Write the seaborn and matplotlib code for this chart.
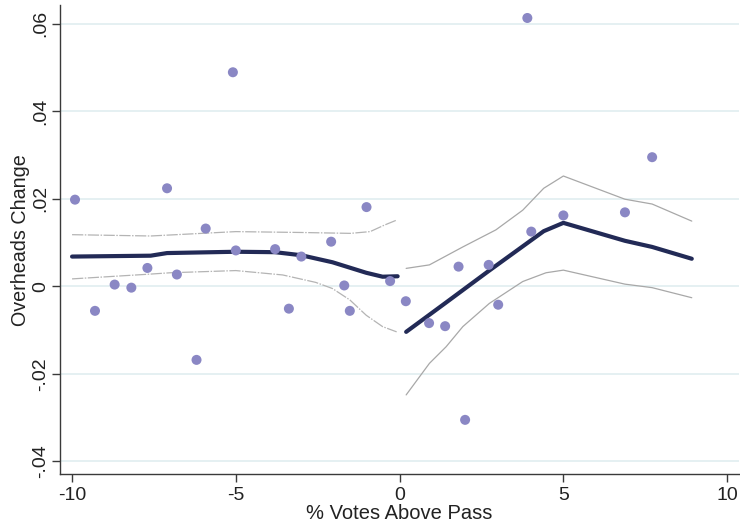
import matplotlib
matplotlib.use("Agg")
import matplotlib.pyplot as plt
import seaborn as sns

# scatter of bin means
bin_x = [-9.91, -9.3, -8.7, -8.19, -7.7, -7.1, -6.8, -6.2, -5.92, -5.09, -5.0,
         -3.8, -3.38, -3.0, -2.09, -1.69, -1.52, -1.01, -0.29, 0.19, 0.9, 1.39,
         1.8, 2.0, 2.72, 3.01, 3.9, 4.02, 5.0, 6.88, 7.71]
bin_y = [0.0198, -0.0056, 0.0004, -0.0003, 0.0042, 0.0224, 0.0027, -0.0168, 0.0132, 0.0489, 0.0082,
         0.0085, -0.0051, 0.0068, 0.0102, 0.0002, -0.0056, 0.0181, 0.0012, -0.0034, -0.0084, -0.0091,
         0.0045, -0.0305, 0.0049, -0.0042, 0.0613, 0.0125, 0.0162, 0.0169, 0.0295]

# fitted line, left of cutoff
left_x = [-10.0, -7.6, -7.1, -5.0, -3.8, -3.0, -2.05, -1.02, -0.52, -0.06]
left_fit = [0.0068, 0.0070, 0.0076, 0.0079, 0.0078, 0.0071, 0.0055, 0.0031, 0.0022, 0.0023]
left_hi_x = [-10.0, -7.6, -5.0, -3.0, -1.5, -0.9, -0.46, -0.1]
left_hi = [0.0118, 0.0115, 0.0125, 0.0123, 0.0121, 0.0125, 0.0140, 0.0151]
left_lo_x = [-10.0, -7.6, -7.0, -5.0, -3.57, -2.56, -2.05, -1.52, -1.02, -0.52, -0.09]
left_lo = [0.0017, 0.0028, 0.0031, 0.0036, 0.0026, 0.0009, -0.0005, -0.0031, -0.0066, -0.0092, -0.0104]

# fitted line, right of cutoff
right_x = [0.2, 1.4, 2.7, 4.4, 5.0, 6.88, 7.71, 8.92]
right_fit = [-0.0104, -0.0038, 0.0034, 0.0126, 0.0145, 0.0104, 0.0090, 0.0063]
right_hi_x = [0.2, 0.91, 1.93, 2.94, 3.76, 4.4, 5.0, 6.88, 7.71, 8.92]
right_hi = [0.0041, 0.0049, 0.0090, 0.0129, 0.0174, 0.0224, 0.0252, 0.0199, 0.0188, 0.0149]
right_lo_x = [0.2, 0.91, 1.42, 1.93, 2.74, 3.76, 4.47, 5.0, 6.88, 7.71, 8.92]
right_lo = [-0.0248, -0.0176, -0.0138, -0.0092, -0.0039, 0.0011, 0.0031, 0.0037, 0.0005, -0.0003, -0.0026]

y_ticks = [-0.04, -0.02, 0, 0.02, 0.04, 0.06]
y_tick_labels = ["-.04", "-.02", "0", ".02", ".04", ".06"]
x_ticks = [-10, -5, 0, 5, 10]

sns.set_style("white")
plt.rcParams["font.family"] = ["Liberation Sans", "DejaVu Sans"]
plt.rcParams["axes.unicode_minus"] = False

fig = plt.figure(figsize=(7.4, 5.28), dpi=100)
ax = fig.add_axes([0.081, 0.102, 0.918, 0.888])

band_color = "#a8a8a8"
line_color = "#222a56"

for bx, by in [(left_hi_x, left_hi), (left_lo_x, left_lo)]:
    sns.lineplot(x=bx, y=by, ax=ax, color="#b4b4b4", linewidth=0.9, sort=False, zorder=2,
                 dashes=False, linestyle=(0, (9, 1.2, 1.2, 1.2)))
for bx, by in [(right_hi_x, right_hi), (right_lo_x, right_lo)]:
    sns.lineplot(x=bx, y=by, ax=ax, color=band_color, linewidth=0.9, sort=False, zorder=2)

for fx, fy in [(left_x, left_fit), (right_x, right_fit)]:
    sns.lineplot(x=fx, y=fy, ax=ax, color=line_color, linewidth=3.0, sort=False, zorder=3)

sns.scatterplot(x=bin_x, y=bin_y, ax=ax, color="#8a87c4", s=52, edgecolor="none", zorder=4)

ax.set_xlim(-10.37, 10.37)
ax.set_ylim(-0.0429, 0.0642)
ax.set_yticks(y_ticks)
ax.set_yticklabels(y_tick_labels, rotation=90, va="center")
ax.set_xticks(x_ticks)
ax.yaxis.grid(True, color="#e0edf0", linewidth=1.2)
ax.set_axisbelow(True)

for side in ["top", "right"]:
    ax.spines[side].set_visible(False)
for side in ["left", "bottom"]:
    ax.spines[side].set_color("#3a3a3a")
    ax.spines[side].set_linewidth(1.0)

ax.tick_params(axis="both", direction="out", length=5.5, width=1.0, color="#3a3a3a",
               labelsize=14, labelcolor="#222222")
ax.tick_params(axis="x", pad=4)
ax.tick_params(axis="y", pad=2)
ax.tick_params(axis="both", which="both", bottom=True, left=True)

ax.set_xlabel("% Votes Above Pass", fontsize=14.5, color="#222222", labelpad=0)
ax.set_ylabel("Overheads Change", fontsize=14.2, color="#222222", labelpad=2)

fig.savefig("out.png", dpi=100)
